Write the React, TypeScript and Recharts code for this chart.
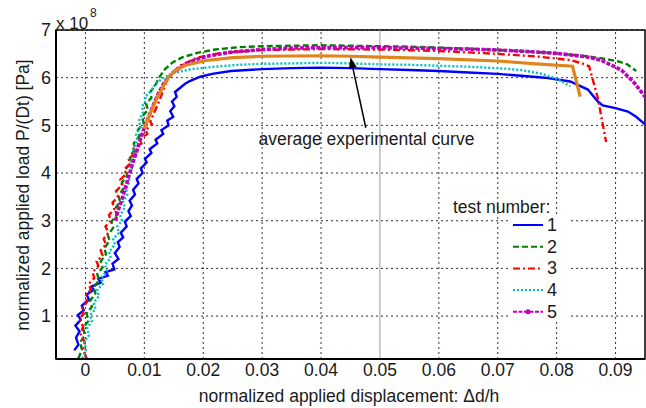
import {
  CartesianGrid,
  Line,
  LineChart,
  ReferenceArea,
  ReferenceDot,
  ReferenceLine,
  XAxis,
  YAxis,
} from "recharts"

// normalized displacement ticks and load ticks (load in units of 1e8 Pa)
const xTicks = [0, 0.01, 0.02, 0.03, 0.04, 0.05, 0.06, 0.07, 0.08, 0.09]
const yTicks = [1, 2, 3, 4, 5, 6, 7]
const testNumbers = ["1", "2", "3", "4", "5"]

// [displacement, load x1e8]
const test1 = [
  [-0.0019, 0.28], [-0.0012, 0.4], [-0.0016, 0.55], [-0.001, 0.68], [-0.0017, 0.8],
  [-0.0008, 0.92], [-0.0013, 1.02], [-0.0003, 1.12], [-0.0006, 1.22], [0.0006, 1.35],
  [0.0002, 1.45], [0.0014, 1.55], [0.001, 1.62], [0.0026, 1.7], [0.0022, 1.78],
  [0.0038, 1.85], [0.0034, 1.92], [0.0049, 1.98], [0.0046, 2.1], [0.0056, 2.2],
  [0.005, 2.32], [0.0058, 2.45], [0.0055, 2.55], [0.0064, 2.65], [0.006, 2.75],
  [0.007, 2.88], [0.0067, 2.98], [0.0077, 3.1], [0.0073, 3.2], [0.0079, 3.32],
  [0.0075, 3.42], [0.0084, 3.55], [0.0081, 3.65], [0.009, 3.78], [0.0087, 3.88],
  [0.0097, 4.0], [0.0094, 4.1], [0.0104, 4.22], [0.0101, 4.3], [0.0112, 4.42],
  [0.0109, 4.5], [0.0122, 4.62], [0.0119, 4.7], [0.0132, 4.82], [0.0129, 4.9],
  [0.0141, 5.0], [0.0139, 5.1], [0.0149, 5.18], [0.0144, 5.3], [0.0151, 5.4],
  [0.0147, 5.5], [0.0155, 5.6], [0.0152, 5.7], [0.0162, 5.8], [0.017, 5.88],
  [0.0177, 5.93], [0.0195, 6.02], [0.0215, 6.08], [0.0247, 6.14], [0.03, 6.18],
  [0.035, 6.2], [0.04, 6.21], [0.045, 6.2], [0.05, 6.18], [0.055, 6.16],
  [0.06, 6.14], [0.065, 6.11], [0.07, 6.08], [0.074, 6.04], [0.078, 6.0],
  [0.0823, 5.92], [0.0853, 5.75], [0.087, 5.5], [0.0878, 5.42], [0.09, 5.36],
  [0.0921, 5.29], [0.0935, 5.18], [0.095, 5.02],
]

const test2 = [
  [-0.0012, 0.11], [-0.0006, 0.3], [-0.0009, 0.45], [-0.0001, 0.6], [-0.0004, 0.75],
  [0.0005, 0.9], [0.0002, 1.05], [0.0011, 1.2], [0.0008, 1.32], [0.0017, 1.48],
  [0.0014, 1.6], [0.0023, 1.75], [0.002, 1.88], [0.0029, 2.02], [0.0026, 2.15],
  [0.0035, 2.3], [0.0032, 2.42], [0.0041, 2.58], [0.0038, 2.7], [0.0047, 2.85],
  [0.0044, 2.98], [0.0053, 3.12], [0.005, 3.25], [0.0059, 3.4], [0.0056, 3.52],
  [0.0065, 3.68], [0.0062, 3.8], [0.0071, 3.95], [0.0068, 4.08], [0.0078, 4.22],
  [0.0075, 4.35], [0.0085, 4.5], [0.0082, 4.62], [0.0092, 4.78], [0.0089, 4.9],
  [0.0099, 5.05], [0.0096, 5.18], [0.0106, 5.32], [0.0103, 5.45], [0.0112, 5.58],
  [0.011, 5.7], [0.0119, 5.85], [0.0125, 6.0], [0.0135, 6.18], [0.0148, 6.32],
  [0.0165, 6.43], [0.019, 6.52], [0.022, 6.59], [0.026, 6.64], [0.03, 6.66],
  [0.035, 6.67], [0.04, 6.68], [0.045, 6.67], [0.05, 6.66], [0.055, 6.65],
  [0.06, 6.63], [0.065, 6.61], [0.07, 6.58], [0.075, 6.55], [0.08, 6.51],
  [0.085, 6.45], [0.088, 6.4], [0.0905, 6.34], [0.092, 6.28], [0.0935, 6.14],
]

const test3 = [
  [0.0002, 0.11], [-0.0004, 0.3], [-0.0001, 0.45], [-0.0008, 0.62], [-0.0004, 0.78],
  [-0.001, 0.95], [-0.0003, 1.05], [-0.0007, 1.15], [0.0003, 1.3], [0.0, 1.42],
  [0.0009, 1.55], [0.0006, 1.68], [0.0015, 1.8], [0.0012, 1.92], [0.0022, 2.05],
  [0.0019, 2.15], [0.0029, 2.27], [0.0026, 2.38], [0.0035, 2.5], [0.0031, 2.62],
  [0.0039, 2.75], [0.0034, 2.88], [0.0043, 3.0], [0.004, 3.12], [0.0049, 3.25],
  [0.0046, 3.38], [0.0055, 3.5], [0.0052, 3.62], [0.0062, 3.75], [0.0059, 3.86],
  [0.0069, 3.98], [0.0066, 4.08], [0.0076, 4.2], [0.0073, 4.3], [0.0085, 4.42],
  [0.0082, 4.52], [0.0095, 4.62], [0.0092, 4.7], [0.0105, 4.82], [0.0102, 4.9],
  [0.0113, 5.02], [0.011, 5.08], [0.0125, 5.5], [0.014, 6.0], [0.016, 6.25],
  [0.019, 6.42], [0.023, 6.52], [0.03, 6.58], [0.04, 6.6], [0.05, 6.59],
  [0.06, 6.56], [0.07, 6.5], [0.077, 6.44], [0.0823, 6.37], [0.0841, 6.31],
  [0.0855, 6.24], [0.087, 5.57], [0.0884, 4.65],
]

const test4 = [
  [-0.0005, 0.11], [0.0001, 0.3], [-0.0002, 0.45], [0.0006, 0.6], [0.0003, 0.75],
  [0.0011, 0.9], [0.0008, 1.02], [0.0017, 1.15], [0.0014, 1.28], [0.0023, 1.42],
  [0.002, 1.55], [0.003, 1.68], [0.0027, 1.8], [0.0036, 1.95], [0.0033, 2.08],
  [0.0043, 2.22], [0.004, 2.35], [0.005, 2.5], [0.0047, 2.62], [0.0057, 2.75],
  [0.0054, 2.88], [0.0062, 3.0], [0.0059, 3.12], [0.0067, 3.28], [0.0064, 3.4],
  [0.0071, 3.55], [0.0069, 3.68], [0.0075, 3.82], [0.0073, 3.95], [0.0079, 4.1],
  [0.0077, 4.22], [0.0083, 4.38], [0.0081, 4.5], [0.0088, 4.68], [0.0086, 4.8],
  [0.0093, 4.98], [0.0091, 5.1], [0.0098, 5.28], [0.0096, 5.4], [0.0103, 5.52],
  [0.0101, 5.6], [0.011, 5.7], [0.0118, 5.85], [0.013, 5.98], [0.015, 6.1],
  [0.018, 6.18], [0.022, 6.23], [0.026, 6.27], [0.03, 6.29], [0.035, 6.3],
  [0.04, 6.31], [0.045, 6.3], [0.05, 6.28], [0.055, 6.27], [0.06, 6.25],
  [0.065, 6.23], [0.07, 6.2], [0.074, 6.16], [0.0775, 6.08], [0.08, 5.98],
  [0.0823, 5.82],
]

const test5 = [
  [0.0051, 3.0], [0.0055, 3.2], [0.0062, 3.45], [0.0068, 3.7], [0.0074, 3.95],
  [0.008, 4.2], [0.0087, 4.45], [0.0093, 4.7], [0.01, 4.95], [0.0108, 5.2],
  [0.0116, 5.45], [0.0125, 5.7], [0.0135, 5.92], [0.0148, 6.1], [0.0165, 6.25],
  [0.0185, 6.37], [0.021, 6.46], [0.025, 6.54], [0.03, 6.59], [0.035, 6.62],
  [0.04, 6.63], [0.045, 6.63], [0.05, 6.63], [0.055, 6.62], [0.06, 6.61],
  [0.065, 6.6], [0.07, 6.58], [0.075, 6.55], [0.08, 6.51], [0.085, 6.44],
  [0.0875, 6.37], [0.091, 6.16], [0.0932, 5.89], [0.095, 5.6],
]

const average = [
  [0.01, 4.93], [0.011, 5.25], [0.0121, 5.56], [0.0132, 5.82], [0.0142, 6.03],
  [0.0155, 6.17], [0.017, 6.26], [0.0205, 6.36], [0.025, 6.42], [0.03, 6.45],
  [0.04, 6.46], [0.045, 6.45], [0.05, 6.43], [0.06, 6.4], [0.07, 6.35],
  [0.0765, 6.29], [0.0827, 6.24], [0.084, 5.6],
]

const toPoints = (rows: number[][]) => rows.map(([d, p]) => ({ d, p }))

const FONT = "'Liberation Sans', Arial, Helvetica, sans-serif"
const INK = "#1a1a1a"
const FS = 17.5

const series = [
  { name: "1", rows: test1, color: "#0000ff", width: 2.4, dash: undefined },
  { name: "2", rows: test2, color: "#008000", width: 2.4, dash: "6 3" },
  { name: "3", rows: test3, color: "#ff0000", width: 2.4, dash: "7 3 2 3" },
  { name: "4", rows: test4, color: "#00bfbf", width: 2.4, dash: "2 2" },
  { name: "5", rows: test5, color: "#bf00bf", width: 3.6, dash: "4 1.5" },
]

const Arrow = (props: any) => {
  const { x1, y1, x2, y2 } = props
  const a = Math.atan2(y2 - y1, x2 - x1)
  const len = 11
  const w = 4
  const bx = x2 - len * Math.cos(a)
  const by = y2 - len * Math.sin(a)
  const pts = [
    `${x2},${y2}`,
    `${bx + w * Math.sin(a)},${by - w * Math.cos(a)}`,
    `${bx - w * Math.sin(a)},${by + w * Math.cos(a)}`,
  ].join(" ")
  return (
    <g>
      <line x1={x1} y1={y1} x2={bx} y2={by} stroke="#000" strokeWidth={1.5} />
      <polygon points={pts} fill="#000" />
    </g>
  )
}

export default function App() {
  return (
    <div style={{ position: "absolute", left: 0, top: 0, width: 646, height: 408, background: "#fff", fontFamily: FONT }}>
      <LineChart width={646} height={408} margin={{ top: 30, right: 1, bottom: 19, left: 6 }}>
        <CartesianGrid vertical={false} stroke="#333" strokeDasharray="2 3" />
        {xTicks.map((t) => (
          <ReferenceLine
            key={t}
            x={t}
            stroke={t === 0.05 ? "#999" : "#333"}
            strokeDasharray={t === 0.05 ? undefined : "2 3"}
          />
        ))}
        <XAxis
          dataKey="d"
          type="number"
          domain={[-0.005, 0.095]}
          ticks={xTicks}
          allowDataOverflow
          height={30}
          tickLine={false}
          tickSize={0}
          tickMargin={5}
          axisLine={{ stroke: "#000", strokeWidth: 2 }}
          tick={{ fill: INK, fontSize: FS, fontFamily: FONT }}
          tickFormatter={(v: number) => (v === 0 ? "0" : v.toFixed(2))}
        />
        <YAxis
          type="number"
          domain={[0.1, 7]}
          ticks={yTicks}
          allowDataOverflow
          width={50}
          tickLine={false}
          tickSize={0}
          tickMargin={5}
          axisLine={{ stroke: "#000", strokeWidth: 2 }}
          tick={{ fill: INK, fontSize: 18, fontFamily: FONT }}
        />
        {series.map((s) => (
          <Line
            key={s.name}
            data={toPoints(s.rows)}
            dataKey="p"
            type="linear"
            dot={false}
            stroke={s.color}
            strokeWidth={s.width}
            strokeDasharray={s.dash}
            isAnimationActive={false}
          />
        ))}
        <Line
          data={toPoints(average)}
          dataKey="p"
          type="linear"
          dot={false}
          stroke="#e0851a"
          strokeWidth={3.2}
          isAnimationActive={false}
        />
        <ReferenceArea
          x1={-0.005}
          x2={0.095}
          y1={0.1}
          y2={7}
          fill="none"
          stroke="#000"
          strokeWidth={1.5}
          ifOverflow="visible"
        />
        <ReferenceLine
          segment={[
            { x: 0.0476, y: 4.95 },
            { x: 0.045, y: 6.43 },
          ]}
          shape={Arrow}
        />
        <ReferenceDot
          x={0.0477}
          y={4.72}
          r={0}
          shape={(p: any) => (
            <text x={p.cx} y={p.cy} textAnchor="middle" dominantBaseline="central" fontSize={FS} fill={INK} fontFamily={FONT}>
              average experimental curve
            </text>
          )}
        />
      </LineChart>

      <svg width={646} height={408} style={{ position: "absolute", left: 0, top: 0, pointerEvents: "none" }}>
        <text x={56} y={29} fontSize={17} fill={INK} fontFamily={FONT}>
          x 10
        </text>
        <text x={90} y={17} fontSize={12} fill={INK} fontFamily={FONT}>
          8
        </text>
        <text x={349} y={402} textAnchor="middle" fontSize={FS} fill={INK} fontFamily={FONT}>
          normalized applied displacement: Δd/h
        </text>
        <text
          x={0}
          y={0}
          transform="translate(29,195) rotate(-90)"
          textAnchor="middle"
          fontSize={FS}
          fill={INK}
          fontFamily={FONT}
        >
          normalized applied load P/(Dt) [Pa]
        </text>

        <text x={453} y={213} fontSize={FS} fill={INK} fontFamily={FONT}>
          test number:
        </text>
        <rect x={510} y={214} width={58} height={108} fill="#fff" />
        {series.map((s, i) => {
          const y = 225 + i * 21.7
          return (
            <g key={s.name}>
              <line x1={513} y1={y} x2={543} y2={y} stroke={s.color} strokeWidth={2} strokeDasharray={s.dash} />
              {s.name === "5" && <circle cx={528} cy={y} r={2.5} fill={s.color} />}
              <text x={547} y={y} dominantBaseline="central" fontSize={18} fill={INK} fontFamily={FONT}>
                {testNumbers[i]}
              </text>
            </g>
          )
        })}
      </svg>
    </div>
  )
}
